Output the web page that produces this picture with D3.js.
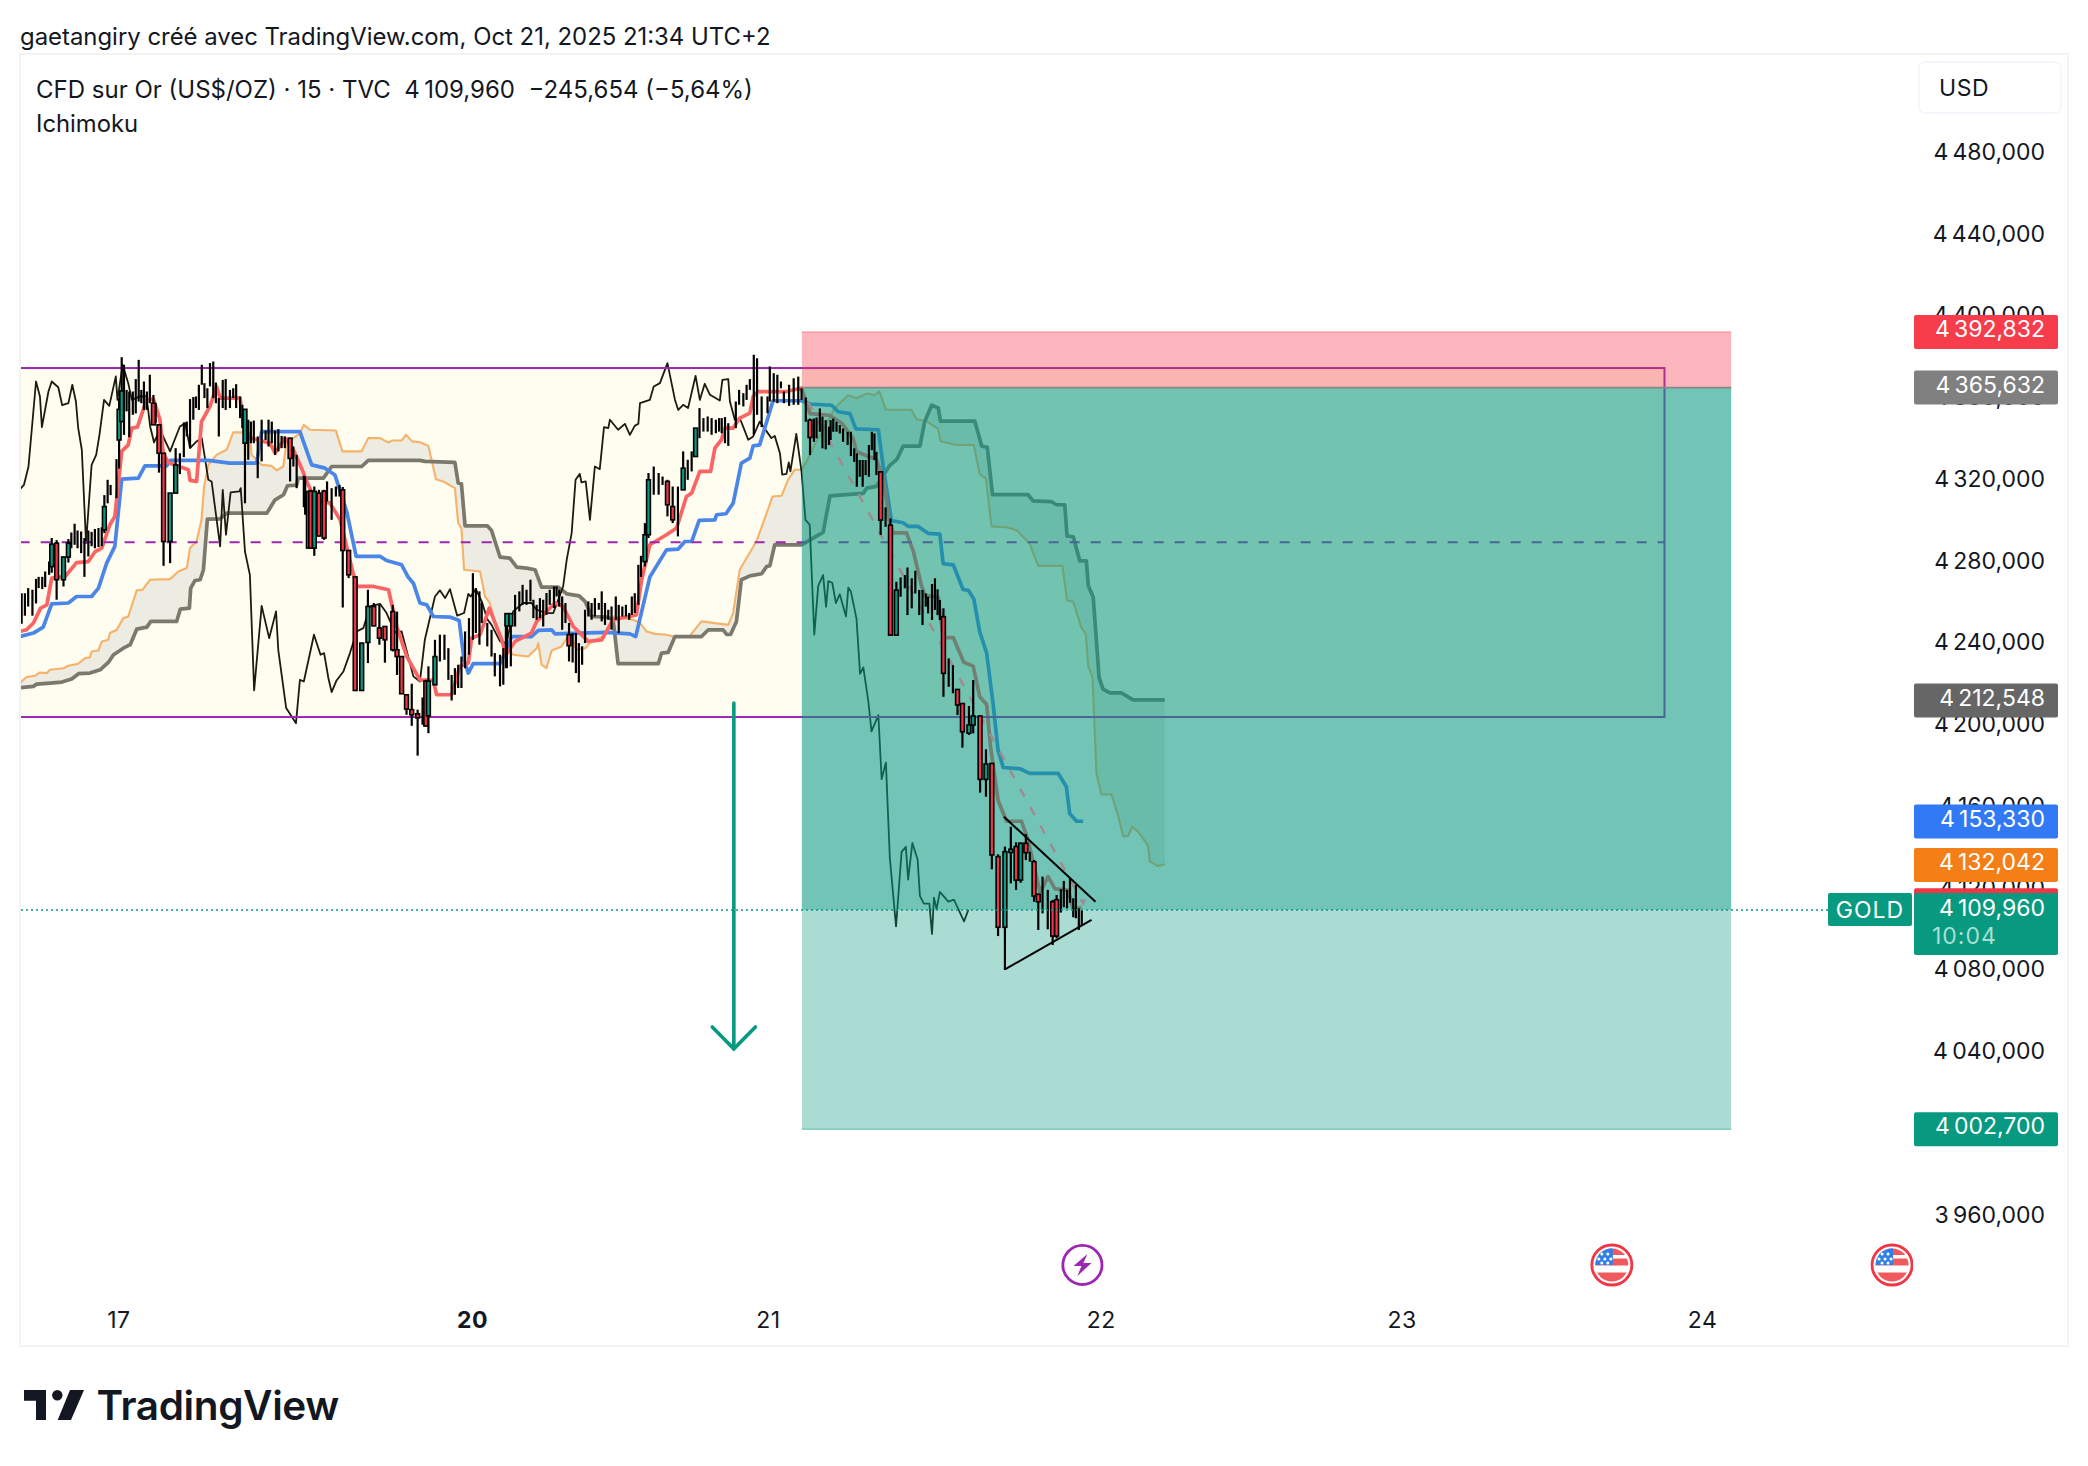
<!DOCTYPE html>
<html>
<head>
<meta charset="utf-8">
<style>
  html, body { margin: 0; padding: 0; background: #fff; }
  text { font-family: Inter, "Open Sans", sans-serif; fill: #131722; }
</style>
<script src="https://cdnjs.cloudflare.com/ajax/libs/d3/7.8.5/d3.min.js"></script>
</head>
<body>
<div id="vis"></div>
<script>
// bars are counted from the left edge of the chart, values in US$
// thin bars: [bar, high, low]
var thinBars = [[0.5,4265,4250],[1.5,4265,4254],[2.5,4267.5,4258.5],[3.8,4266.7,4254],[4.9,4272,4260],[5.7,4273,4267.5],[6.8,4273,4267],[7.7,4275.6,4268],[8.9,4280.5,4274],
[15.7,4294.7,4287],[16.7,4299,4288.7],[17.6,4295.7,4287],[18.7,4295.2,4284.6],[19.7,4292,4273],[20.9,4295.7,4283],[21.9,4295,4288],[22.9,4296.4,4287],[24,4296.9,4287.6],[25,4297.3,4288],
[26.8,4320.5,4309],[27.7,4318,4313],[29.5,4330.6,4311.5],[31.8,4376.8,4342.5],[32.6,4364.5,4354],[33.4,4363.7,4341.4],[34.5,4363.7,4352.3],[35.4,4369.8,4353],[36.3,4379.2,4358.8],[37.1,4364.5,4358],[37.9,4368.6,4354.7],[38.8,4363.7,4354.7],[39.7,4371.9,4358],[41.5,4358,4348.2],
[48.9,4333.5,4323.3],[50.1,4348.6,4331.6],[51,4349,4341.7],[52,4360,4336],[53,4361,4349.9],[53.8,4361.3,4355.6],[54.7,4367,4354.7],[55.6,4376.8,4367],[56.4,4367.8,4360.5],[57.3,4365.3,4355.6],[58.1,4377.6,4366.2],[59.1,4378.4,4360.5],[59.9,4368.1,4358],[60.8,4360.5,4341.7],[62,4369.4,4355.6],[62.9,4369.8,4354.7],[64.2,4364.5,4355.6],[65.2,4365.3,4360.5],[66.1,4367.3,4355.6],[67.3,4361.3,4350.7],[68,4357.2,4345.8],
[69.8,4349.9,4330.3],[70.6,4349,4338.4],[71.5,4349.5,4338.4],[72.7,4341.7,4321.3],[73.9,4349.9,4329.5],[75.1,4344.6,4340],[76,4349.9,4336.8],[77,4349,4338.4],[78,4344.6,4332.7],[79,4345.3,4334.4],[80,4342,4336],[81,4341.7,4336],[83.6,4336.8,4327],[84.6,4332.7,4316.4],[86.8,4322.5,4307.1],[87.2,4322.1,4303.4],
[93.9,4319.7,4309.9],[95.3,4316.4,4300.9],[96.6,4317.2,4312.3],[97.7,4318,4312.3],[123.1,4214,4200.6],
[128.4,4244.7,4231.6],[129.8,4244.7,4232.4],[131,4238.1,4222.6],[132,4225,4212.5],[133,4228.3,4215.3],[134,4230,4218.6],[135,4234,4218.6],[136.1,4246.3,4228.3],[137.3,4252.8,4234.9],[138.5,4274.8,4242.2],[139.4,4267.5,4245.5],[140.5,4265.9,4239.8],[141.2,4260.2,4250.4],[142.9,4250.4,4239],[144.2,4247.1,4234],[145.2,4235.7,4224.3],[146.8,4234.9,4219.4],[147.8,4238.1,4220.2],[148.6,4255.3,4228.3],
[151.4,4264.2,4248.7],[152.7,4265.9,4256.1],[153.7,4269.1,4259.3],[154.9,4266.7,4259.3],[156.1,4271.6,4261],[157,4261.8,4252.8],[158,4259.3,4252],[159,4262.6,4252.8],[160,4261.8,4248.7],[161,4265.1,4254.4],[162,4266.7,4259.3],[163.3,4268.3,4257.7],[164.1,4268.3,4263.4],[164.9,4266.7,4258.5],[165.8,4263.4,4247.1],[166.8,4260.2,4250.4],[169,4245.5,4231.1],[170,4245.5,4225.9],[170.9,4240.6,4221.3],[171.9,4239,4230],[172.8,4256.9,4240.6],[173.8,4261,4253.6],[174.8,4260.2,4252],[175.8,4262.6,4253.6],[177,4260.2,4256.9],[177.9,4265.9,4251.2],[178.9,4260.2,4249.5],[179.9,4256.9,4252],[180.9,4258.5,4247.1],[182.2,4263.4,4252],[183.1,4259.3,4245.5],[184.2,4258.5,4253.6],[185.3,4259.3,4253.6],[186.3,4255.3,4252],[187.1,4263.4,4254.4],[188,4265,4255.3],[189.1,4278.9,4259.3],[189.9,4283.3,4272.9],
[193.8,4327,4313.2],[195.3,4323.8,4313.2],[196.5,4322.1,4318],[201.2,4317.2,4292.8],[204.2,4330.3,4320.5],[205.4,4334.4,4324.6],[207.8,4355.6,4340.9],[209,4350.7,4344.1],[210.3,4351.5,4344.1],[211.5,4350.7,4342.5],[212.8,4349.9,4343.3],[213.8,4350.7,4344.1],[214.6,4350.7,4343.3],[215.6,4351.2,4338.4],[216.6,4348.2,4337.1],[218.9,4358.8,4345.8],[219.9,4364.5,4357.2],[221.2,4362.9,4356.4],[222.2,4367,4359.6],[223.2,4369.8,4364.5],[224.4,4381.7,4342.5],[225.4,4380,4352.3],[226.8,4361.3,4346.3],[228.6,4361.3,4353.1],[229.3,4376,4358.8],[230.5,4372.7,4358.8],[231.6,4371.9,4358],[232.7,4368.6,4365.3],[233.6,4363.7,4358],[235.2,4367,4356.7],[236.6,4370.2,4357.2],[238,4371,4357.2],[239,4365.3,4359.6],[240.3,4360.8,4348.9],
[242.8,4350.5,4339.1],[243.6,4351,4340.8],[244.6,4355.4,4344],[245.4,4351.4,4335.9],[246.4,4349.7,4335.4],[247.4,4346.5,4337.5],[247.9,4349.7,4340],[248.7,4350.5,4344],[249.7,4348.9,4344],[250.7,4347.3,4343.2],[251.7,4345.6,4339.1],[253.1,4344,4337.5],[254.1,4344,4332.1],[255.1,4335.9,4329.3],[255.9,4333.4,4317.1],[256.8,4330.2,4322],[257.7,4330.2,4317.1],[258.6,4330.2,4322.8],[259.6,4337.5,4322],[260.5,4344,4335],[261.3,4343.2,4330.2],[261.9,4334.2,4322.8],[264.7,4307,4297.5],
[269.3,4272.7,4263.3],[270.6,4273.9,4267.4],[271.4,4277.6,4254.3],[272.7,4272.3,4257.6],[273.8,4276,4264.9],[275,4266.6,4254.3],[276,4266.6,4249.4],[277,4264.9,4258.4],[277.7,4263.3,4255.1],[278.9,4269.5,4251.9],[279.8,4272.3,4256.8],[280.6,4266.9,4254.3],[281.3,4261.7,4251.9],[284,4233.1,4219.2],[285.3,4229.8,4216],
[308.8,4138.5,4133.6],[312.7,4126.3,4108.3],[314.3,4119.8,4100.5],[318.3,4120.1,4108.7],[319.2,4124.2,4111.3],[320.2,4119.8,4110.8],[321.1,4125.5,4113.5],[322.1,4115.7,4106.4],[322.9,4122.2,4105.9],[323.8,4110.8,4100.2],[324.7,4110,4102.6]];

// bars with a visible body: [bar, open, high, low, close]
var bodyBars = [[9.7,4278,4292,4275,4289],[11.2,4289.5,4291,4261.8,4271.6],[13.3,4271.6,4283,4268.3,4282.7],[14.8,4282.7,4291.5,4280,4289.5],[25.8,4296,4313,4294.4,4307.4],
[30.3,4340,4360.5,4326,4355],[31.1,4349,4380.5,4349,4364],[40.8,4358,4362,4347.4,4347.4],[42.5,4347.4,4347.4,4324,4333.5],[43.9,4333.5,4333.5,4278.4,4290.3],[45.9,4290.3,4314,4279.7,4314],[47.6,4314,4336,4314,4327.8],
[68.8,4338.4,4355,4309,4355],[82.6,4340.9,4340.9,4319.7,4331],[88.2,4314.8,4314.8,4287.1,4287.1],[88.9,4315,4315.6,4287.1,4287.1],[90,4287.1,4317.2,4283.3,4314.8],[91.4,4314,4315.6,4292.8,4293],[93,4315,4315.6,4291.1,4292],
[98.7,4315.6,4317,4258,4285.9],[100.5,4285.9,4286,4272.4,4274],[102.5,4273,4273,4217.4,4217.4],[104.5,4217.4,4240.6,4217.4,4240.6],[106.4,4240.9,4266.7,4230.8,4258.5],[108.2,4258.5,4260.2,4249,4249],[109.9,4248,4259.3,4239.8,4243],[111.6,4248.7,4249,4231,4242.2],[114,4256,4259.3,4236.5,4237.3],[115.3,4237.3,4256,4225,4234],[116.7,4234,4234,4215.8,4215.8],[118.2,4215.3,4215.5,4205.5,4208.3],[119.8,4208,4220.7,4200.1,4205.5],[121.6,4206,4208,4185.5,4204],
[124.1,4222,4222.6,4199.8,4200],[124.9,4205,4229.2,4196.5,4222],[126.9,4220.2,4242.2,4220.2,4234],[148.9,4249,4255,4228.3,4255],[150.1,4249,4255.3,4229.2,4255],[167.9,4244.7,4250.4,4231.6,4239.3],[191.1,4280.5,4299.3,4278.1,4293.6],[192.2,4293.6,4323.8,4292,4320.5],
[198,4319.7,4320.5,4302.6,4308.3],[199.6,4307.4,4317.2,4299.3,4300.9],[202.8,4315.6,4334.4,4315.6,4326.2],[206.6,4331.9,4345.8,4331.9,4345.8],[241.6,4349.7,4350.5,4332.6,4341.2],
[263.2,4324.4,4324.4,4293.5,4300.8],[266.2,4298.3,4301.6,4244.5,4244.5],[268,4244.5,4270.6,4244.5,4266.5],[282.4,4253.5,4257.6,4214.3,4225.8],[286.7,4217.9,4217.9,4205.4,4210.3],[288.2,4211,4211,4189.4,4197.2],[290.2,4196.5,4209.8,4195.6,4200.5],[291.5,4200.5,4222.5,4196.4,4204.9],[293.6,4204.9,4205,4167.4,4173.9],[295.4,4173.9,4188.6,4165.4,4181.4],[297.2,4181.7,4181.7,4129.9,4136.9],[299.1,4136.1,4137.2,4097.2,4101.5],[301.2,4101.5,4141,4080.6,4138.5],[303,4138.1,4150.7,4123,4139.7],[304.6,4141,4143.1,4119.8,4124.6],[306,4124.6,4143.1,4123.3,4142.6],[307.6,4142.6,4147.1,4134.4,4138],[310.1,4133.6,4134.4,4114,4116.8],[311.4,4117.6,4118.1,4100.2,4114],[315.8,4114,4114.9,4092.8,4097.2],[317,4115,4117.3,4096.1,4097.2]];

// ichimoku lines: [bar, value]
var conversionLine = [[0,4246.3],[2,4247.1],[4.1,4250.4],[6.3,4257.7],[8.2,4259.3],[9.7,4272.4],[13.8,4273.2],[17.3,4280],[20.9,4280.5],[23,4285.4],[25,4287.1],[27.5,4298.5],[29,4302.6],[31.1,4334.4],[33.1,4337.6],[34.2,4345.8],[35.9,4346.3],[38.7,4359.6],[40.8,4360],[42.8,4349.9],[43.8,4333.5],[45.3,4329],[51.5,4325.4],[52,4320.2],[54,4319.7],[55.5,4349],[58.1,4356.4],[60.1,4366.2],[61.2,4360.5],[67.3,4360.5],[68.8,4341.7],[76.5,4338.4],[78,4333.5],[81,4340.9],[83.6,4335.2],[86.1,4326.2],[87.7,4319.7],[90.2,4310.7],[94.8,4309.1],[97.9,4300.9],[102,4274],[103,4268.3],[108.1,4268.3],[112.7,4266.7],[115.2,4248.7],[118.3,4234],[122.3,4222.6],[126.4,4222.3],[127.4,4215.3],[132,4215.3],[134.5,4229.2],[137.1,4230.8],[138.1,4243],[140.7,4244.7],[143.5,4257.7],[147.3,4242.2],[148.6,4234.9],[151.4,4241.4],[156.4,4245.5],[158,4251.2],[163.6,4260.2],[166.1,4258.5],[169.2,4248.7],[173.8,4241.4],[177.9,4242.2],[181.4,4252],[188.5,4254.4],[190.1,4271.6],[192.6,4288.7],[197.7,4293.6],[200.8,4296.9],[203.8,4312.3],[205.4,4314],[207.9,4324.6],[211.2,4324.6],[212.5,4336],[214.5,4340.1],[215.6,4345.8],[218.1,4345.8],[220.1,4350.7],[223.2,4353.1],[224.2,4361.3],[225.7,4363.7],[234.4,4363.7],[239,4365.4],[240,4360.4],[241.6,4352.9],[247.7,4352],[251.3,4348.2],[254.8,4340.7],[255.8,4334.2],[261.9,4330.4],[264,4321.1],[266,4298.6],[267,4294.5],[271.1,4294.5],[273.2,4285.5],[275.7,4268.6],[276.7,4263.9],[280.8,4263],[282.3,4243.3],[285.4,4243.3],[288.6,4231.2],[291.5,4229.3],[293.5,4214.3],[295.6,4210.5],[296.8,4189.9],[299.1,4163.7],[301.7,4153.4],[306.3,4153.4],[308.3,4144],[311.9,4118.8],[312.9,4121.6],[314.4,4126.3],[316.5,4120.3],[320.5,4119.7],[322.1,4110.3],[324.6,4111.3]];

var baseLine = [[0,4243.8],[4.1,4245.5],[7.1,4248.4],[9.7,4259.8],[14.8,4260.2],[17.3,4263.4],[21.9,4263.4],[24,4267.5],[26.5,4279.7],[29,4287.9],[31.1,4320.8],[36.2,4321.3],[38.2,4327.3],[44.9,4327.3],[45.9,4330],[57.6,4330],[64.2,4328.7],[72.4,4328.7],[73.9,4344.1],[85.6,4344.1],[89.2,4327.8],[93.3,4326.2],[96.3,4322.9],[99.9,4305],[102.8,4283],[110.1,4283],[112.1,4281],[116.7,4278.9],[118.7,4272.9],[120.3,4269.9],[122.3,4260.2],[124.4,4259.3],[126.4,4253.6],[131.5,4253.3],[134.3,4251.7],[135.8,4232.4],[137.1,4225.9],[138.6,4230.5],[146.8,4230.5],[148.8,4237.3],[150.3,4243.8],[156.4,4243.8],[158.5,4246.8],[162.6,4247.1],[163.6,4245.1],[179.4,4245.8],[186.5,4245.1],[188.3,4243.8],[192.6,4272.9],[197.7,4286.2],[201.3,4286.6],[203.3,4290.3],[205.4,4290.3],[207.7,4300.6],[212.5,4300.9],[213,4303.4],[215.9,4303.9],[218.1,4309.1],[220.6,4328.7],[223.2,4331.1],[224.2,4337.1],[226.2,4337.6],[230.3,4359.2],[239,4359.2],[241.6,4357.6],[248.2,4357],[250.2,4353.8],[253.8,4352.9],[255.6,4345.4],[262.5,4345],[264,4326.7],[266.5,4300.5],[270.1,4299.5],[271.6,4297.7],[274.7,4297.7],[277.7,4294.3],[281.3,4293.9],[282.3,4279.5],[285.4,4278.9],[288.4,4266.8],[290,4266.4],[291.7,4262.1],[293.5,4246.1],[295.6,4235.8],[297.6,4210.6],[299.1,4188.1],[300.7,4179.7],[305.8,4179.1],[308.8,4176.8],[317.5,4176.8],[320,4170.3],[321,4157.2],[323.1,4153.4],[325.1,4153.4]];

var leadingSpanA = [[0,4221],[2,4224],[4.6,4224.6],[6.1,4226.2],[8.2,4225.9],[9.2,4227.5],[13.3,4228.3],[14.8,4229.5],[17.8,4230.5],[19.9,4233.2],[21.4,4233.7],[21.9,4236.5],[24,4237],[25,4241.4],[27,4242.2],[27.5,4245.5],[29.6,4247.1],[31.6,4252.8],[33.1,4253.6],[35.7,4266.4],[37.5,4266.7],[39.8,4271.6],[45.9,4271.9],[48.4,4275.6],[51,4277.3],[52,4287.1],[54,4290.3],[55.5,4300.9],[56.3,4317.2],[57.6,4327.8],[60.1,4332.7],[63.2,4335.2],[65.2,4343.7],[70.3,4343.7],[70.8,4332.7],[73.9,4327.8],[76.9,4327.3],[78.5,4325.1],[80.5,4327],[81.3,4336.8],[83.6,4340.9],[85.6,4343.3],[86.8,4347.4],[88.7,4345],[96.6,4344.6],[98.6,4334.4],[104.5,4334.4],[106.5,4340.9],[110.1,4340.9],[112.6,4338.8],[113.9,4339.7],[116.7,4339.7],[118,4342.5],[120,4339.3],[122.3,4338.9],[124.9,4337.1],[127.2,4320.8],[129.4,4319.7],[133,4316.4],[134,4299.3],[135,4296.8],[135.8,4276.5],[140.7,4275.6],[142.2,4263.4],[143.7,4260.2],[145.8,4247.1],[147.8,4240.9],[150.8,4234.9],[155.4,4234],[158,4238.1],[158.5,4240.6],[159.5,4230],[161,4228.3],[162.6,4237],[165.6,4238.9],[168.2,4245.5],[170.2,4237.3],[172.8,4238.1],[174.8,4241.4],[178.4,4243.8],[181.4,4253.6],[187.5,4252],[189.6,4250.4],[191.6,4246.3],[194.2,4245.1],[197.7,4244.7],[199.8,4243.8],[204.9,4244.2],[208.4,4251.2],[216.6,4249.5],[218.1,4255.3],[220.1,4276.5],[222.2,4282.2],[225.2,4290.3],[227.8,4301.7],[230.1,4312.3],[232.9,4312.7],[234.9,4320.5],[236.9,4325.4],[239,4325.4],[240.6,4329.5],[243.1,4337.9],[245.1,4343.5],[249.2,4355.7],[253.3,4361.9],[255.8,4360.4],[259.1,4362.7],[261.4,4361.9],[262.8,4363.8],[264.8,4354.8],[272.6,4354.8],[274.2,4350.1],[277.2,4349.2],[280.8,4345.4],[281.5,4339.4],[286.4,4337.5],[291.7,4337.5],[293.5,4323.3],[295.4,4321.1],[297.1,4297.7],[301.7,4297.3],[304.8,4295.8],[308.8,4289.2],[311.4,4278.4],[318.8,4278.4],[320.2,4261.5],[322.1,4260.8],[324.6,4248],[325.9,4245.2],[326.7,4229.3],[328,4223.7],[329.2,4176.8],[330.7,4166.5],[333.8,4166.5],[335.8,4156.2],[337.4,4145.9],[338.9,4146.3],[340.1,4150.6],[341.9,4148.4],[345,4141.3],[345.5,4133.8],[348,4131.5],[350.1,4132.3]];

var leadingSpanB = [[0,4218.7],[4.1,4219.4],[5.1,4220.5],[9.2,4221],[12.8,4221.5],[15.8,4223],[17.9,4225.6],[21.4,4225.9],[24.5,4227.5],[27,4231.1],[28.6,4234.9],[31.6,4238.1],[33.7,4239.8],[35.7,4247.4],[38.8,4248.4],[40,4251.2],[47.9,4251.2],[49,4257.2],[51.8,4257.7],[52.2,4267.5],[53.5,4271.2],[55.1,4271.6],[56.1,4276.5],[57.3,4301.3],[61.2,4301.4],[63.2,4304.2],[75.5,4304.2],[78,4310.7],[80.6,4313.2],[81.8,4317.6],[84.6,4317.9],[85.1,4321.3],[92.8,4321.3],[95.3,4327],[104.5,4327],[106.5,4330],[122.3,4330],[123.8,4329.5],[133,4329],[134,4318.9],[135,4318.5],[136.1,4298],[142.9,4298],[144.2,4295.7],[146.8,4282.7],[149.8,4282.2],[151.9,4277.8],[154.9,4277.3],[157.5,4276.5],[159.5,4268],[164.6,4268],[167.2,4264.7],[171,4263.7],[172.8,4261],[174.8,4253.6],[179.4,4253.3],[181.4,4252],[182.9,4230.5],[195.2,4230.5],[196.2,4235.7],[198.2,4236],[200.3,4243.8],[208.4,4243.8],[210.5,4247.1],[215,4247.1],[216.1,4244.8],[217.3,4244.8],[219.1,4251.2],[220.6,4271.6],[223.2,4273.5],[226.8,4274.5],[228.3,4278],[229.3,4278.4],[230.8,4288.7],[239.1,4288.7],[241.6,4291.1],[245.6,4294.8],[247.7,4312.6],[257.9,4313.9],[258.9,4316.4],[261.9,4317.3],[266,4327.6],[268.1,4330.4],[270.1,4337],[275.2,4337],[276.7,4349.2],[278.8,4357],[280.8,4355.7],[281.5,4349.2],[292,4349.2],[294.1,4337],[295.8,4336.4],[297.4,4313.2],[308.3,4313.2],[309.8,4310.2],[315.4,4309.8],[317,4308.3],[319.5,4308.3],[320.2,4293],[322.1,4292.6],[324.1,4280.8],[326.1,4280.8],[326.7,4268.6],[328.2,4263],[330,4223.7],[331.2,4218.1],[333.3,4216.2],[336.8,4216.2],[340.4,4212.8],[350.1,4212.8]];

var laggingSpan = [[0,4315.9],[1.2,4318],[2.6,4327],[4.9,4368.6],[6.1,4361.3],[6.7,4346.3],[8.7,4363.7],[9.7,4368.6],[11.7,4365.8],[12.9,4357],[14.8,4358],[16,4367],[17.1,4358.8],[17.8,4345.8],[18.9,4335.2],[20.2,4289.5],[21.9,4327.8],[23.3,4332.7],[24.3,4342.5],[25.7,4359.6],[27.3,4356.7],[29.3,4371.1],[29.8,4359.6],[31.4,4376.8],[33.1,4367.8],[34.2,4359.6],[36.7,4361.3],[38.7,4361.3],[39.8,4346.6],[41,4338.8],[42.8,4345],[45.9,4334.4],[48.9,4346.6],[50.5,4348.2],[52,4336],[54,4339.3],[55.6,4340.9],[57.6,4320.5],[58.6,4319.7],[61.2,4287.9],[62,4315.6],[63,4293.6],[64.4,4314.3],[67.1,4314.8],[67.5,4316.4],[68.8,4285.4],[70.3,4274],[71.6,4217.4],[73.9,4258.8],[76.2,4243],[78.3,4256.1],[79,4237],[81.4,4208.8],[84.4,4201.4],[85.6,4222.6],[86.8,4221.8],[89.9,4244.7],[91.9,4234.9],[93,4235.7],[94.3,4223.5],[95.3,4216.6],[96.8,4222.3],[98.9,4226.7],[100.9,4235.7],[103,4246.3],[105,4247.9],[107,4258.5],[110.1,4259.8],[112.1,4255.3],[114.7,4245.8],[116.7,4246.3],[118.7,4234],[120.3,4224.3],[122.3,4221.8],[123.8,4242.2],[126.9,4263.4],[128.4,4266.4],[130,4262.6],[131.5,4267],[133.7,4254],[135.8,4255.3],[137.1,4264.7],[137.8,4263.4],[139.4,4267],[141.2,4261],[142.9,4252.3],[144.2,4249.5],[146.8,4241.4],[148.8,4240.6],[150.8,4256.1],[153.9,4260.2],[156.4,4260.2],[158,4256.9],[161,4255.3],[163.1,4255.3],[166.1,4268.3],[167.2,4281.4],[168.7,4294.4],[169.9,4320.5],[171.2,4323.4],[171.7,4319.2],[173,4319.7],[174.3,4300.9],[175.8,4327],[177.3,4325.7],[178.6,4346.3],[179.9,4345.8],[180.4,4349.9],[182.9,4345],[185,4347.9],[186.5,4342.5],[188,4346.9],[189.1,4347.9],[189.6,4358],[192.6,4359.6],[193.8,4366.2],[195.7,4367.8],[198,4377.6],[200.3,4359.6],[201.3,4354.7],[202.8,4357.2],[204.3,4355.6],[206.6,4371.4],[207.9,4359.6],[209.4,4367.5],[211,4362.1],[214,4359.3],[214.8,4369.4],[216.6,4369.8],[217.1,4358.8],[218.6,4349.9],[220.3,4349.9],[221.2,4346.3],[222.7,4340.1],[224.2,4341.7],[226.2,4349],[229.8,4340.9],[230.8,4342],[232.4,4333.5],[233.1,4323],[234.4,4323.4],[235.1,4329],[235.6,4324.6],[237.4,4343],[239,4324.6],[240.2,4300.9],[241.5,4298.5],[242.9,4244.7],[244.1,4268.6],[245.6,4273.9],[246.5,4258.3],[247.2,4270.9],[248.4,4270.1],[249.5,4260.2],[250.7,4264.5],[252.6,4253.6],[253.3,4267.7],[254.1,4265.8],[255.8,4252.7],[256.9,4225.5],[257.9,4228.7],[259.4,4212.4],[260.4,4197.4],[262.5,4205.3],[263.5,4174],[264.8,4182.1],[266,4135.6],[267.9,4101.9],[269.6,4138.4],[270.9,4140.9],[271.6,4124.8],[272.9,4142.8],[274.5,4134.7],[275.2,4116.9],[276.4,4113.1],[278.1,4113.1],[278.9,4098.2],[279.5,4116],[280.3,4110.4],[281.3,4118.8],[283.9,4114.1],[285.6,4115],[288.7,4104.4],[290,4110]];

// drawings on the chart
var rangeBox = {start: -5, end: 502.9, high: 4375.2, low: 4204.4, mid: 4290};
var position = {start: 239.1, end: 523.3, stop: 4392.832, entry: 4365.632, target: 4002.7};
var trianglePattern = [[[300.9,4155.6],[328.9,4114]], [[301.2,4080.9],[327.7,4105.1]]];
var dashedPath = [[241,4358.5],[325.1,4113.2],[326.7,4119.4]];
var arrowShaft = [[218.3,4211.3],[218.3,4042]];
var arrowHead = [[211.7,4052.7],[218.3,4042],[224.9,4052.7]];
var lastPrice = 4109.96;

var priceTicks = [4480,4440,4400,4360,4320,4280,4240,4200,4160,4120,4080,4040,4000,3960];
var dayBars = [30.1,138.2,228.7,330.5,422.5,514.4];
var dayLabels = ["17","20","21","22","23","24"];
var eventBars = [[324.9,"bolt"],[486.8,"flag"],[572.5,"flag"]];

var priceBadges = [
  [4392.832,"#F73C4C","4\u202F392,832"],
  [4365.632,"#808080","4\u202F365,632"],
  [4212.548,"#666666","4\u202F212,548"],
  [4153.33,"#3179F5","4\u202F153,330"],
  [4132.042,"#F57F17","4\u202F132,042"],
  [4002.7,"#089981","4\u202F002,700"]
];

var width = 2088, height = 1466;

var x = d3.scaleLinear().domain([0, 100]).range([20, 347]);
var y = d3.scaleLinear().domain([4109.96, 4480]).range([910, 153.9]);

var svg = d3.select("#vis").append("svg")
    .attr("width", width)
    .attr("height", height)
    .style("display", "block");

svg.append("clipPath").attr("id", "plot")
  .append("rect").attr("x", 21).attr("y", 55).attr("width", 1892).attr("height", 1290);

// page furniture
svg.append("text").attr("x", 20).attr("y", 45).style("font-size", "23.9px")
    .text("gaetangiry créé avec TradingView.com, Oct 21, 2025 21:34 UTC+2");

svg.append("rect")
    .attr("x", 20).attr("y", 54).attr("width", 2048).attr("height", 1292)
    .attr("fill", "#fff").attr("stroke", "#F3F3F3").attr("stroke-width", 2);

var plot = svg.append("g").attr("clip-path", "url(#plot)");

var line = d3.line().x(d => x(d[0])).y(d => y(d[1]));

// range box background
plot.append("rect")
    .attr("x", x(rangeBox.start)).attr("y", y(rangeBox.high))
    .attr("width", x(rangeBox.end) - x(rangeBox.start))
    .attr("height", y(rangeBox.low) - y(rangeBox.high))
    .attr("fill", "#FFFDF0");

// ichimoku cloud between the two leading spans
plot.append("path")
    .attr("d", line(leadingSpanA.concat(leadingSpanB.slice().reverse())) + "Z")
    .attr("fill", "#ECEBE0")
    .attr("fill-opacity", 0.95);

var ichimoku = [
  [leadingSpanA, "#F6B26B", 2.1],
  [leadingSpanB, "#7A796C", 3.7],
  [laggingSpan, "#1C1B10", 1.8],
  [baseLine, "#4A86E8", 3.7],
  [conversionLine, "#FA6464", 3.7]
];

plot.selectAll(".ichimoku")
    .data(ichimoku)
    .join("path")
    .attr("class", "ichimoku")
    .attr("d", d => line(d[0]))
    .attr("fill", "none")
    .attr("stroke", d => d[1])
    .attr("stroke-width", d => d[2])
    .attr("stroke-linejoin", "round");

// range box outline and middle line
plot.append("rect")
    .attr("x", x(rangeBox.start)).attr("y", y(rangeBox.high))
    .attr("width", x(rangeBox.end) - x(rangeBox.start))
    .attr("height", y(rangeBox.low) - y(rangeBox.high))
    .attr("fill", "none").attr("stroke", "#9C27B0").attr("stroke-width", 2);

plot.append("line")
    .attr("x1", x(rangeBox.start)).attr("x2", x(rangeBox.end))
    .attr("y1", y(rangeBox.mid)).attr("y2", y(rangeBox.mid))
    .attr("stroke", "#9C27B0").attr("stroke-width", 2)
    .attr("stroke-dasharray", "10 11").attr("stroke-dashoffset", 5);

// short position tool
var posX = x(position.start), posW = x(position.end) - x(position.start);

plot.append("rect").attr("x", posX).attr("width", posW)
    .attr("y", y(position.stop)).attr("height", y(position.entry) - y(position.stop))
    .attr("fill", "#F23645").attr("fill-opacity", 0.36);
plot.append("rect").attr("x", posX).attr("width", posW)
    .attr("y", y(position.entry)).attr("height", y(position.target) - y(position.entry))
    .attr("fill", "#089981").attr("fill-opacity", 0.34);
plot.append("rect").attr("x", posX).attr("width", posW)
    .attr("y", y(position.entry)).attr("height", y(lastPrice) - y(position.entry))
    .attr("fill", "#089981").attr("fill-opacity", 0.35);

plot.append("line").attr("x1", posX).attr("x2", posX + posW)
    .attr("y1", y(position.stop)).attr("y2", y(position.stop))
    .attr("stroke", "#F7858F").attr("stroke-width", 1);
plot.append("line").attr("x1", posX).attr("x2", posX + posW)
    .attr("y1", y(position.entry)).attr("y2", y(position.entry))
    .attr("stroke", "#888").attr("stroke-width", 1.6);
plot.append("line").attr("x1", posX).attr("x2", posX + posW)
    .attr("y1", y(position.target)).attr("y2", y(position.target))
    .attr("stroke", "#5DB8A8").attr("stroke-width", 1);

plot.append("path")
    .attr("d", line(dashedPath))
    .attr("fill", "none").attr("stroke", "#A08A90").attr("stroke-width", 2.5)
    .attr("stroke-dasharray", "9 12");

// candles
plot.selectAll(".wick")
    .data(thinBars)
    .join("line")
    .attr("class", "wick")
    .attr("x1", d => x(d[0])).attr("x2", d => x(d[0]))
    .attr("y1", d => y(d[1])).attr("y2", d => y(d[2]))
    .attr("stroke", "#000").attr("stroke-width", 2.2);

plot.selectAll(".bodyWick")
    .data(bodyBars)
    .join("line")
    .attr("class", "bodyWick")
    .attr("x1", d => x(d[0])).attr("x2", d => x(d[0]))
    .attr("y1", d => y(d[2])).attr("y2", d => y(d[3]))
    .attr("stroke", "#000").attr("stroke-width", 2.2);

plot.selectAll(".body")
    .data(bodyBars)
    .join("rect")
    .attr("class", "body")
    .attr("x", d => x(d[0]) - 1.9)
    .attr("width", 3.8)
    .attr("y", d => y(Math.max(d[1], d[4])))
    .attr("height", d => Math.abs(y(d[1]) - y(d[4])))
    .attr("fill", d => d[4] >= d[1] ? "#089981" : "#F23645")
    .attr("stroke", "#000").attr("stroke-width", 1.6);

// triangle
plot.selectAll(".triangle")
    .data(trianglePattern)
    .join("path")
    .attr("class", "triangle")
    .attr("d", line)
    .attr("fill", "none").attr("stroke", "#000").attr("stroke-width", 2);

// arrow
plot.selectAll(".arrow")
    .data([arrowShaft, arrowHead])
    .join("path")
    .attr("class", "arrow")
    .attr("d", line)
    .attr("fill", "none").attr("stroke", "#089981").attr("stroke-width", 3.6)
    .attr("stroke-linecap", "round");

// last price line
plot.append("line")
    .attr("x1", 21).attr("x2", 1829)
    .attr("y1", y(lastPrice)).attr("y2", y(lastPrice))
    .attr("stroke", "#089981").attr("stroke-width", 1.6)
    .attr("stroke-dasharray", "2 3");

// event icons along the bottom
var eventY = 1265;
var events = plot.selectAll(".event")
    .data(eventBars)
    .join("g")
    .attr("class", "event")
    .attr("transform", d => "translate(" + x(d[0]) + "," + eventY + ")");

svg.append("clipPath").attr("id", "flagClip")
  .append("circle").attr("r", 16.5);

events.filter(d => d[1] === "bolt").each(function() {
  var g = d3.select(this);
  g.append("circle").attr("r", 19.6).attr("fill", "#fff").attr("stroke", "#9C27B0").attr("stroke-width", 2.8);
  g.append("path").attr("d", "M5 -11 L-9 1 L-1 1 L-5 11 L9 -2 L1 -2 Z").attr("fill", "#9C27B0");
});

events.filter(d => d[1] === "flag").each(function() {
  var g = d3.select(this);
  g.append("circle").attr("r", 20).attr("fill", "#fff").attr("stroke", "#F23645").attr("stroke-width", 2.8);
  var f = g.append("g").attr("clip-path", "url(#flagClip)");
  f.append("rect").attr("x", -17).attr("y", -17).attr("width", 34).attr("height", 34).attr("fill", "#fff");
  f.selectAll(".stripe").data([-17, -6.5, 7.5]).join("rect")
      .attr("x", -17).attr("width", 34).attr("y", d => d).attr("height", (d, i) => i == 2 ? 11 : 7)
      .attr("fill", "#F05A5E");
  f.append("rect").attr("x", -17).attr("y", -17).attr("width", 18).attr("height", 17).attr("fill", "#2F80E8");
  var stars = [[-10,-11],[-4,-11],[-13,-6],[-7,-6],[-1,-6],[-10,-2],[-4,-2]];
  f.selectAll(".star").data(stars).join("circle")
      .attr("cx", d => d[0]).attr("cy", d => d[1]).attr("r", 1.5).attr("fill", "#fff");
});

// price axis
var priceAxis = d3.axisRight(y)
    .tickValues(priceTicks)
    .tickSize(0)
    .tickFormat(d => "" + Math.floor(d / 1000) + "\u202F" + d3.format("03")(d % 1000) + ",000");

var axisG = svg.append("g").attr("transform", "translate(2045,0)").call(priceAxis);
axisG.select(".domain").remove();
axisG.selectAll("text")
    .attr("x", 0).attr("dy", null).attr("y", 5.6)
    .attr("text-anchor", "end")
    .style("font-size", "23px")
    .style("font-family", "Inter, sans-serif")
    .style("letter-spacing", "1px")
    .attr("fill", "#131722");

// time axis
var timeAxis = d3.axisBottom(x)
    .tickValues(dayBars)
    .tickSize(0)
    .tickFormat((d, i) => dayLabels[i]);

var timeG = svg.append("g").attr("transform", "translate(0,1311)").call(timeAxis);
timeG.select(".domain").remove();
timeG.selectAll("text")
    .attr("y", 0).attr("dy", "0.75em")
    .style("font-size", "23px")
    .style("font-family", "Inter, sans-serif")
    .style("letter-spacing", "0.5px")
    .style("font-weight", (d, i) => dayLabels[i] == "20" ? 700 : 400)
    .attr("fill", "#131722");

// price badges
var badgeX = 1914, badgeW = 144, badgeH = 34;

// conversion badge only peeks out above the last price badge
svg.append("rect").attr("x", badgeX).attr("y", y(4111.3) - badgeH / 2 - 2)
    .attr("width", badgeW).attr("height", badgeH).attr("rx", 2).attr("fill", "#F23645");

svg.selectAll(".badge")
    .data(priceBadges)
    .join("rect")
    .attr("class", "badge")
    .attr("x", badgeX).attr("y", d => y(d[0]) - badgeH / 2)
    .attr("width", badgeW).attr("height", badgeH).attr("rx", 2)
    .attr("fill", d => d[1]);

svg.selectAll(".badgeText")
    .data(priceBadges)
    .join("text")
    .attr("class", "badgeText")
    .attr("x", 2045).attr("y", d => y(d[0]) + 5.2)
    .attr("text-anchor", "end")
    .style("font-size", "23px").style("letter-spacing", "1px").style("fill", "#fff")
    .text(d => d[2]);

// last price badge with countdown, and the symbol tag
svg.append("rect").attr("x", badgeX).attr("y", 893).attr("width", badgeW).attr("height", 62)
    .attr("rx", 2).attr("fill", "#089981");
svg.append("text").attr("x", 2045).attr("y", 915.5)
    .attr("text-anchor", "end")
    .style("font-size", "23px").style("letter-spacing", "1px").style("fill", "#fff")
    .text("4\u202F109,960");
svg.append("text").attr("x", 1932).attr("y", 943.5)
    .style("font-size", "23px").style("letter-spacing", "1px").style("fill", "#A8DFD3")
    .text("10:04");
svg.append("rect").attr("x", 1828).attr("y", 893).attr("width", 84).attr("height", 33)
    .attr("rx", 2).attr("fill", "#089981");
svg.append("text").attr("x", 1870).attr("y", 917.5)
    .attr("text-anchor", "middle")
    .style("font-size", "23px").style("letter-spacing", "1px").style("fill", "#fff")
    .text("GOLD");

// currency button
svg.append("rect").attr("x", 1919).attr("y", 62).attr("width", 142).attr("height", 51)
    .attr("rx", 6).attr("fill", "#fff").attr("stroke", "#F0F3FA").attr("stroke-width", 1.3);
svg.append("text").attr("x", 1939).attr("y", 95.5).style("font-size", "23px").style("letter-spacing", "0.6px").text("USD");

// legend
svg.append("text").attr("x", 36).attr("y", 98).style("font-size", "24px")
    .text("CFD sur Or (US$/OZ) · 15 · TVC  4\u202F109,960  −245,654 (−5,64%)")
    .attr("xml:space", "preserve").style("white-space", "pre");
svg.append("text").attr("x", 36).attr("y", 132).style("font-size", "23.8px").text("Ichimoku");

// logo
svg.append("path").attr("d", "M24 1390H46V1420H36V1400.7H24Z M70 1390H84L71 1420H57.7Z").attr("fill", "#131722");
svg.append("circle").attr("cx", 57.3).attr("cy", 1395.3).attr("r", 5.2).attr("fill", "#131722");
svg.append("text").attr("x", 96.5).attr("y", 1420)
    .style("font-size", "40.5px").style("font-weight", 600).style("letter-spacing", "-0.4px")
    .text("TradingView");
</script>
</body>
</html>
